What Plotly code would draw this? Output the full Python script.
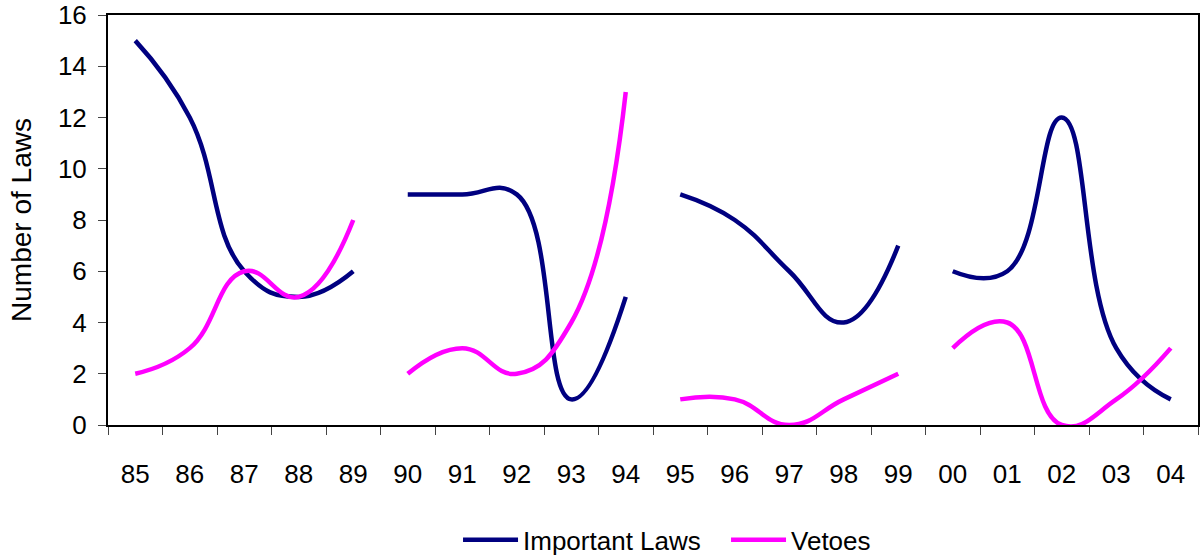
import plotly.graph_objects as go

years = ["85", "86", "87", "88", "89", "90", "91", "92", "93", "94",
         "95", "96", "97", "98", "99", "00", "01", "02", "03", "04"]
important_laws = [15, 12, 6, 5, 6, 9, 9, 9, 1, 5, 9, 8, 6, 4, 7, 6, 6, 12, 3, 1]
vetoes = [2, 3, 6, 5, 8, 2, 3, 2, 4, 13, 1, 1, 0, 1, 2, 3, 4, 0, 1, 3]
segment_size = 5
y_ticks = [0, 2, 4, 6, 8, 10, 12, 14, 16]

series = [("Important Laws", important_laws, "#000080"),
          ("Vetoes", vetoes, "#FF00FF")]

fig = go.Figure()
for name, vals, color in series:
    for s in range(0, len(years), segment_size):
        fig.add_trace(go.Scatter(
            x=years[s:s + segment_size], y=vals[s:s + segment_size],
            mode="lines", name=name, legendgroup=name,
            showlegend=(s == 0),
            line=dict(color=color, width=4.5, shape="spline", smoothing=1.3),
        ))

fam = "Liberation Sans, Arial, sans-serif"
font = dict(family=fam, size=26, color="black")
title_font = dict(family=fam, size=28, color="black")
fig.update_layout(
    width=1201, height=556,
    margin=dict(l=108, r=3, t=15, b=131, autoexpand=False),
    paper_bgcolor="white", plot_bgcolor="white",
    font=font,
    showlegend=True,
    legend=dict(orientation="h", x=0.567, xanchor="center", y=-0.28,
                yanchor="middle", font=font, bgcolor="rgba(0,0,0,0)",
                itemwidth=55, tracegroupgap=0, entrywidth=198),
    xaxis=dict(type="category", categoryorder="array", categoryarray=years,
               tickson="boundaries", ticks="outside", ticklen=8, tickwidth=1,
               tickcolor="#444", showline=True, linecolor="black", linewidth=2,
               mirror=True, showgrid=False, ticklabelstandoff=25,
               tickfont=font, automargin=False,
               range=[-0.5, len(years) - 0.5]),
    yaxis=dict(range=[0, 16], tickvals=y_ticks, ticks="outside", ticklen=8,
               tickwidth=1, tickcolor="#444", showline=True, linecolor="black",
               linewidth=2, mirror=True, showgrid=False, zeroline=False,
               tickfont=font, automargin=False, ticklabelstandoff=6,
               title=dict(text="Number of Laws", font=title_font, standoff=18)),
)

fig.write_html("out.html",
               config={"displayModeBar": False},
               post_script="document.body.style.margin='0';"
                           "document.body.style.padding='0';")
